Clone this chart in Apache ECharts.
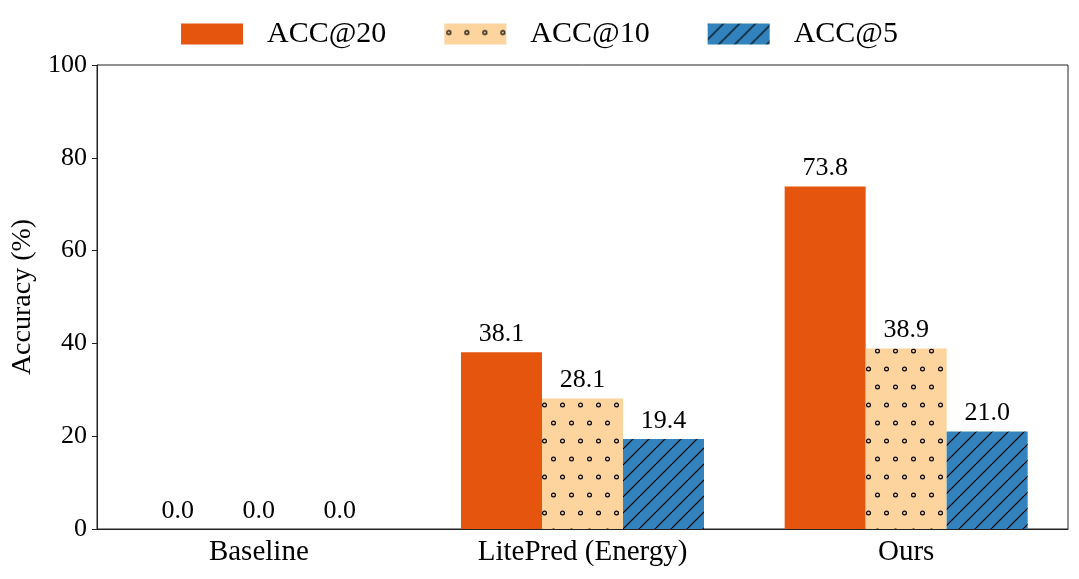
<!DOCTYPE html>
<html>
<head>
<meta charset="utf-8">
<script src="https://cdn.jsdelivr.net/npm/echarts@6/dist/echarts.min.js"></script>
<style>html,body{margin:0;padding:0;background:#fff;}#c{width:1079px;height:579px;}</style>
</head>
<body>
<div id="c"></div>
<script>
const categories = ['Baseline', 'LitePred (Energy)', 'Ours'];
const seriesNames = ['ACC@20', 'ACC@10', 'ACC@5'];
const acc20 = [0.0, 38.1, 73.8];
const acc10 = [0.0, 28.1, 38.9];
const acc5 = [0.0, 19.4, 21.0];
const yTicks = [0, 20, 40, 60, 80, 100];

function dotPattern() {
  const c = document.createElement('canvas');
  c.width = 18; c.height = 36;
  const g = c.getContext('2d');
  g.fillStyle = '#FDD49E';
  g.fillRect(0, 0, 18, 36);
  g.strokeStyle = '#000';
  g.lineWidth = 1.2;
  [[4.5, 9], [13.5, 27]].forEach(([x, y]) => {
    g.beginPath(); g.arc(x, y, 1.9, 0, Math.PI * 2); g.stroke();
  });
  return c;
}
function hatchPattern() {
  const c = document.createElement('canvas');
  c.width = 16; c.height = 16;
  const g = c.getContext('2d');
  g.fillStyle = '#3182BD';
  g.fillRect(0, 0, 16, 16);
  g.strokeStyle = '#000';
  g.lineWidth = 1.2;
  [-16, 0, 16].forEach(k => {
    g.beginPath(); g.moveTo(k, 16); g.lineTo(k + 16, 0); g.stroke();
  });
  return c;
}

const font = 'Liberation Serif';
const axisColor = '#222';
const chart = echarts.init(document.getElementById('c'), null, {renderer: 'canvas'});
const fills = [
  '#E6550D',
  {image: dotPattern(), repeat: 'repeat'},
  {image: hatchPattern(), repeat: 'repeat'}
];
const datas = [acc20, acc10, acc5];

chart.setOption({
  animation: false,
  backgroundColor: '#fff',
  legend: {
    top: 14,
    left: 'center',
    itemWidth: 62,
    itemHeight: 21,
    itemGap: 58,
    icon: 'rect',
    textStyle: {fontFamily: font, fontSize: 30, color: '#000', padding: [0, 0, 0, 19]},
    data: seriesNames
  },
  grid: {left: 97, right: 11, top: 65, bottom: 50, show: true, borderColor: axisColor, borderWidth: 1, backgroundColor: 'transparent'},
  xAxis: {
    type: 'category',
    data: categories,
    axisLine: {lineStyle: {color: axisColor, width: 1}},
    axisTick: {alignWithLabel: true, length: 5, lineStyle: {color: axisColor}},
    axisLabel: {fontFamily: font, fontSize: 29, color: '#000', margin: 9}
  },
  yAxis: {
    type: 'value',
    min: yTicks[0],
    max: yTicks[yTicks.length - 1],
    interval: 20,
    name: 'Accuracy (%)',
    nameLocation: 'middle',
    nameGap: 59,
    nameTextStyle: {fontFamily: font, fontSize: 28, color: '#000'},
    axisLine: {show: true, lineStyle: {color: axisColor, width: 1}},
    axisTick: {show: true, length: 5, lineStyle: {color: axisColor}},
    axisLabel: {fontFamily: font, fontSize: 26, color: '#000', margin: 10},
    splitLine: {show: false}
  },
  series: seriesNames.map((n, i) => ({
    name: n,
    type: 'bar',
    data: datas[i],
    barWidth: 81,
    barGap: '0%',
    itemStyle: {color: fills[i]},
    label: {
      show: true,
      position: 'top',
      distance: 5,
      fontFamily: font,
      fontSize: 26,
      color: '#000',
      formatter: p => p.value.toFixed(1)
    }
  }))
});
</script>
</body>
</html>
